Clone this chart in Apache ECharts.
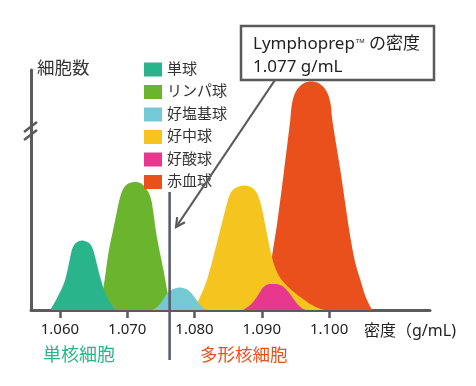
<!DOCTYPE html>
<html>
<head>
<meta charset="utf-8">
<script src="https://cdn.jsdelivr.net/npm/echarts@6/dist/echarts.min.js"></script>
<style>
html,body{margin:0;padding:0;background:#fff;}
#c{width:476px;height:386px;}
</style>
</head>
<body>
<div id="c"></div>
<script>
// ---- data (density g/mL, relative cell count) ----
const DENSITY_TICKS = [1.06, 1.07, 1.08, 1.09, 1.10];
const LEGEND_ORDER = ['単球', 'リンパ球', '好塩基球', '好中球', '好酸球', '赤血球'];

const monoX = [1.05854, 1.05958, 1.06077, 1.06177, 1.06211, 1.06256, 1.06326, 1.06390, 1.06449, 1.06494, 1.06523, 1.06598, 1.06697, 1.06821];
const monoY = [0, 12, 30, 60, 65, 68, 69.5, 68.5, 66, 60, 53, 33, 13, 0];

const lymphX = [1.06553, 1.06647, 1.06721, 1.06821, 1.06880, 1.06925, 1.06984, 1.07059, 1.07118, 1.07193, 1.07252, 1.07297, 1.07334, 1.07367, 1.07441, 1.07539, 1.07613, 1.07668];
const lymphY = [0, 23, 57, 90, 109, 119, 125, 127.5, 128, 127, 124, 120, 115, 107, 73, 40, 13, 0];

const basoX = [1.07371, 1.07445, 1.07520, 1.07594, 1.07683, 1.07787, 1.07877, 1.07936, 1.08010, 1.08085, 1.08159, 1.08219];
const basoY = [0, 3, 9, 17, 21, 22.5, 21, 18, 12, 5, 1, 0];

const neutX = [1.07936, 1.08036, 1.08184, 1.08333, 1.08457, 1.08516, 1.08561, 1.08635, 1.08729, 1.08813, 1.08888, 1.08940, 1.08977, 1.09014, 1.09051, 1.09126, 1.09185, 1.09274, 1.09423, 1.09572, 1.09720, 1.09839, 1.09929];
const neutY = [0, 7, 30, 67, 100, 114, 119.5, 123, 124.5, 123.5, 120.5, 115, 108, 98, 85, 60, 45, 32, 21, 13, 6, 2, 0];

const eosX = [1.08724, 1.08828, 1.08928, 1.08992, 1.09051, 1.09126, 1.09215, 1.09289, 1.09349, 1.09408, 1.09472, 1.09542, 1.09616, 1.09661];
const eosY = [0, 5, 13, 20, 24.5, 26, 26, 24.5, 21.5, 17, 11, 5, 1, 0];

const rbcX = [1.09051, 1.09155, 1.09225, 1.09323, 1.09423, 1.09445, 1.09483, 1.09542, 1.09631, 1.09735, 1.09839, 1.09929, 1.09988, 1.10025, 1.10048, 1.10167, 1.10316, 1.10390, 1.10465, 1.10539, 1.10599, 1.10643];
const rbcY = [0, 55, 85, 135, 190, 205, 215, 222, 227, 228.5, 227, 222, 215, 205, 190, 140, 73, 47, 30, 14, 5, 0];

const LYMPHOPREP_LINE = 1.0763;
const BOX_LINE1 = 'Lymphoprep';
const BOX_LINE1_TAIL = 'の密度';
const BOX_LINE2 = '1.077 g/mL';

// ---- styling ----
const FONT = "'Noto Sans', 'Noto Sans CJK JP', sans-serif";
const AXIS_COLOR = '#5b5b5b';
const COLORS = {
  '単球': '#2ab48c',
  'リンパ球': '#6ab42e',
  '好塩基球': '#74c9d5',
  '好中球': '#f5c41f',
  '好酸球': '#e8388e',
  '赤血球': '#e9501c'
};

function pairs(xs, ys) { return xs.map((x, i) => [x, ys[i]]); }

function areaSeries(name, xs, ys, z) {
  return {
    name: name,
    type: 'line',
    data: pairs(xs, ys),
    smooth: 0.3,
    showSymbol: false,
    symbol: 'none',
    z: z,
    itemStyle: { color: COLORS[name] },
    lineStyle: { width: 0, color: COLORS[name] },
    areaStyle: { color: COLORS[name], opacity: 1 },
    silent: true,
    animation: false
  };
}

const chart = echarts.init(document.getElementById('c'), null, { renderer: 'canvas' });

const option = {
  animation: false,
  backgroundColor: '#fff',
  grid: { left: 31, right: 46, top: 70, bottom: 76 },
  legend: {
    data: LEGEND_ORDER,
    orient: 'vertical',
    left: 139,
    top: 57,
    icon: 'rect',
    itemWidth: 18,
    itemHeight: 14,
    itemGap: 7.5,
    itemStyle: { borderWidth: 0 },
    textStyle: { fontFamily: FONT, fontSize: 15, color: '#333', lineHeight: 14 },
    selectedMode: false
  },
  xAxis: {
    type: 'value',
    min: 1.0557,
    max: 1.1150,
    splitLine: { show: false },
    axisLine: { show: true, lineStyle: { color: AXIS_COLOR, width: 3 } },
    axisTick: { show: true, customValues: DENSITY_TICKS, length: 8, lineStyle: { color: AXIS_COLOR, width: 2.5 } },
    axisLabel: {
      customValues: DENSITY_TICKS,
      formatter: v => v.toFixed(3),
      fontFamily: FONT, fontSize: 15, color: '#222', margin: 12
    }
  },
  yAxis: {
    type: 'value',
    min: 0,
    max: 240,
    splitLine: { show: false },
    axisLine: { show: true, lineStyle: { color: AXIS_COLOR, width: 3 } },
    axisTick: { show: false },
    axisLabel: { show: false }
  },
  series: [
    areaSeries('リンパ球', lymphX, lymphY, 2),
    areaSeries('単球', monoX, monoY, 3),
    areaSeries('赤血球', rbcX, rbcY, 4),
    areaSeries('好中球', neutX, neutY, 5),
    areaSeries('好酸球', eosX, eosY, 6),
    areaSeries('好塩基球', basoX, basoY, 7)
  ]
};
chart.setOption(option);

// annotations positioned via the chart's own scale
const lineX = chart.convertToPixel({ xAxisIndex: 0 }, LYMPHOPREP_LINE);
const tip = [lineX + 6.5, 227];
const start = [275, 80];
const dx = tip[0] - start[0], dy = tip[1] - start[1];
const len = Math.hypot(dx, dy);
const bx = -dx / len, by = -dy / len;
const ang = 28 * Math.PI / 180, hl = 10;
const h1 = [tip[0] + hl * (bx * Math.cos(ang) - by * Math.sin(ang)), tip[1] + hl * (bx * Math.sin(ang) + by * Math.cos(ang))];
const h2 = [tip[0] + hl * (bx * Math.cos(-ang) - by * Math.sin(-ang)), tip[1] + hl * (bx * Math.sin(-ang) + by * Math.cos(-ang))];

chart.setOption({
  graphic: [
    // axis break marks
    { type: 'line', shape: { x1: 24, y1: 132, x2: 37, y2: 122 }, style: { stroke: AXIS_COLOR, lineWidth: 2.5 }, z: 100 },
    { type: 'line', shape: { x1: 24, y1: 140, x2: 37, y2: 130 }, style: { stroke: AXIS_COLOR, lineWidth: 2.5 }, z: 100 },
    // y axis title
    { type: 'text', left: 37, top: 60, style: { text: '細胞数', font: '17.5px ' + FONT, fill: '#333' }, z: 100 },
    // Lymphoprep density line
    { type: 'line', shape: { x1: lineX, y1: 192, x2: lineX, y2: 360 }, style: { stroke: '#55586a', lineWidth: 2.5 }, z: 100 },
    // arrow
    { type: 'line', shape: { x1: start[0], y1: start[1], x2: tip[0], y2: tip[1] }, style: { stroke: '#5a5a5a', lineWidth: 2.2 }, z: 100 },
    { type: 'polyline', shape: { points: [h1, tip, h2] }, style: { stroke: '#5a5a5a', lineWidth: 2.2, fill: null }, z: 100 },
    // label box
    { type: 'rect', shape: { x: 241, y: 26, width: 193, height: 54 }, style: { stroke: '#5a5a5a', lineWidth: 2.5, fill: '#fff' }, z: 101 },
    { type: 'text', x: 253, y: 33, style: {
        text: '{a|' + BOX_LINE1 + '}{tm|TM}{a| ' + BOX_LINE1_TAIL + '}\n{a|' + BOX_LINE2 + '}',
        rich: {
          a: { font: '17px ' + FONT, fill: '#222', lineHeight: 23 },
          tm: { font: '6px ' + FONT, fill: '#222', lineHeight: 23, padding: [0, 0, 6, 1] }
        }
      }, z: 102 },
    // x axis name
    { type: 'text', left: 364, top: 323, style: { text: '密度（g/mL)', font: '16px ' + FONT, fill: '#222' }, z: 100 },
    // group labels
    { type: 'text', left: 43, top: 347, style: { text: '単核細胞', font: '18px ' + FONT, fill: COLORS['単球'] }, z: 100 },
    { type: 'text', left: 200, top: 347, style: { text: '多形核細胞', font: '17.5px ' + FONT, fill: COLORS['赤血球'] }, z: 100 }
  ]
});
</script>
</body>
</html>
